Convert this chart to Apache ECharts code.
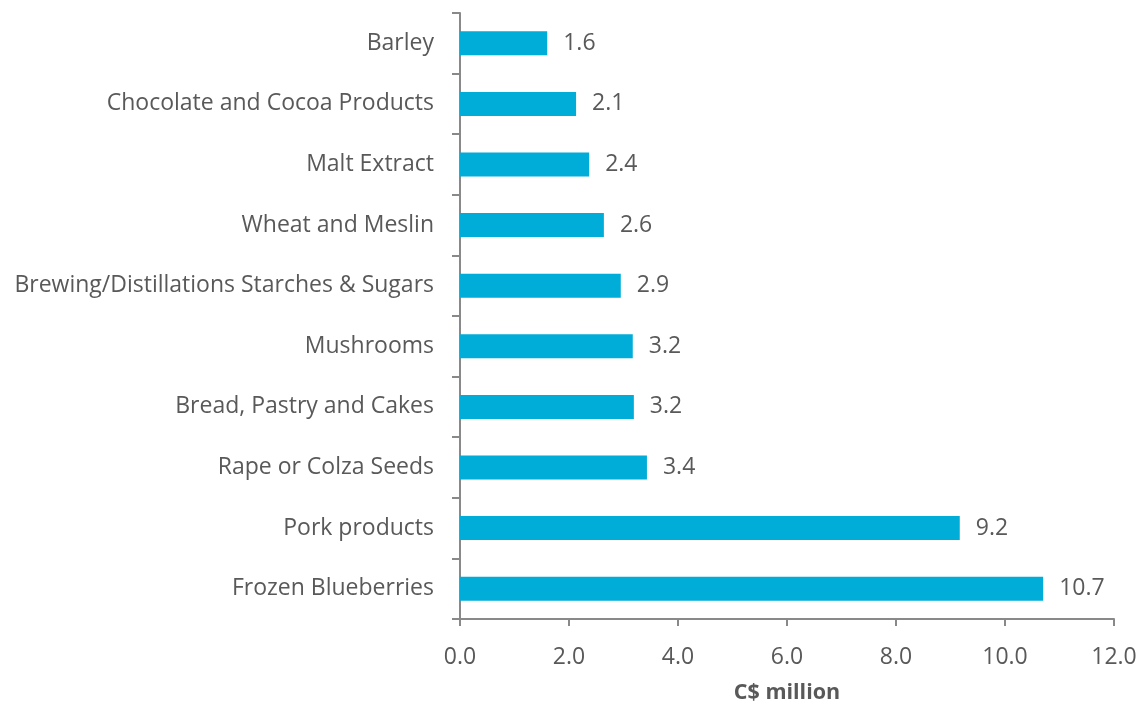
<!DOCTYPE html>
<html>
<head>
<meta charset="utf-8">
<script src="https://cdn.jsdelivr.net/npm/echarts@6.0.0/dist/echarts.min.js"></script>
<style>html,body{margin:0;padding:0;background:#fff;}#c{width:1140px;height:704px;}</style>
</head>
<body>
<div id="c"></div>
<script>
var categories = ["Barley","Chocolate and Cocoa Products","Malt Extract","Wheat and Meslin","Brewing/Distillations Starches & Sugars","Mushrooms","Bread, Pastry and Cakes","Rape or Colza Seeds","Pork products","Frozen Blueberries"];
var values = [1.6, 2.13, 2.37, 2.64, 2.95, 3.17, 3.19, 3.43, 9.17, 10.7];
var labels = ["1.6","2.1","2.4","2.6","2.9","3.2","3.2","3.4","9.2","10.7"];
var xTicks = [0, 2, 4, 6, 8, 10, 12];

var FONT = "Open Sans";
var FS = 23;
var chart = echarts.init(document.getElementById('c'), null, {renderer: 'canvas'});
chart.setOption({
  animation: false,
  backgroundColor: '#ffffff',
  grid: {left: 460, right: 26, top: 13, bottom: 85, containLabel: false, outerBoundsMode: 'none'},
  xAxis: {
    type: 'value', min: xTicks[0], max: xTicks[xTicks.length-1], interval: 2,
    name: 'C$ million', nameLocation: 'middle', nameGap: 63,
    nameTextStyle: {fontFamily: FONT, fontSize: 21.5, fontWeight: 'bold', color: '#595959'},
    axisLine: {show: true, lineStyle: {color: '#898989', width: 2}},
    axisTick: {show: true, length: 7, lineStyle: {color: '#898989', width: 2}},
    splitLine: {show: false},
    axisLabel: {fontFamily: FONT, fontSize: FS, color: '#595959', margin: 27,
      formatter: function(v){ return v.toFixed(1); }}
  },
  yAxis: {
    type: 'category', data: categories, inverse: true,
    axisLine: {show: true, lineStyle: {color: '#898989', width: 2}},
    axisTick: {show: true, length: 8, lineStyle: {color: '#898989', width: 2}},
    axisLabel: {fontFamily: FONT, fontSize: FS, color: '#595959', margin: 26}
  },
  series: [{
    type: 'bar', data: values, barWidth: 24,
    itemStyle: {color: '#00ADD8'},
    label: {show: true, position: 'right', distance: 16, fontFamily: FONT, fontSize: FS, color: '#595959',
      formatter: function(p){ return labels[p.dataIndex]; }}
  }]
});
</script>
</body>
</html>
